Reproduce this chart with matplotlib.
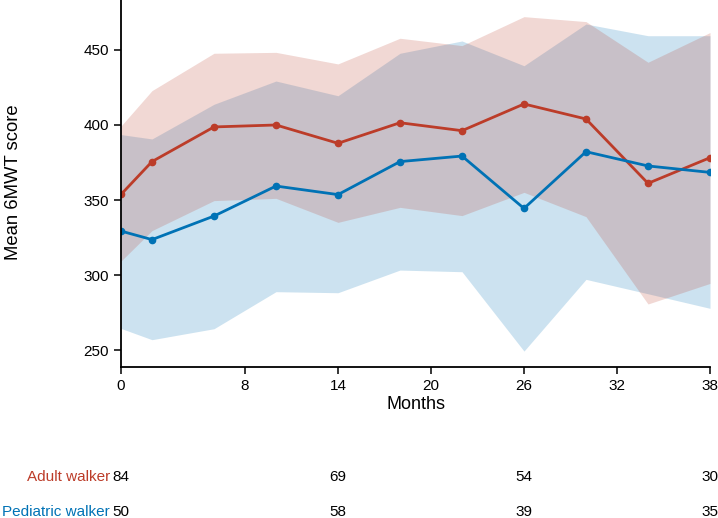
import matplotlib
matplotlib.use("Agg")
import matplotlib.pyplot as plt
import matplotlib.transforms as mtransforms

plt.rcParams["font.family"] = ["Liberation Sans", "DejaVu Sans"]

RED = "#BC3C29"
BLUE = "#0072B5"

months = [0, 2, 6, 10, 14, 18, 22, 26, 30, 34, 38]

adult_mean = [353.7, 375.6, 398.7, 400.0, 387.8, 401.5, 396.2, 414.0, 404.0, 361.1, 378.2]
adult_hi = [399.3, 422.9, 447.8, 448.4, 440.7, 457.8, 452.9, 472.2, 468.9, 441.8, 461.6]
adult_lo = [309.3, 329.6, 349.6, 351.1, 335.1, 345.1, 339.6, 355.1, 338.9, 280.7, 294.4]

ped_mean = [329.3, 323.6, 339.3, 359.3, 353.6, 375.6, 379.3, 344.4, 382.2, 372.7, 368.4]
ped_hi = [393.6, 390.7, 413.8, 429.3, 419.5, 447.8, 456.0, 439.5, 467.3, 459.5, 459.5]
ped_lo = [264.4, 256.9, 264.2, 288.9, 288.2, 303.3, 302.2, 249.3, 297.1, 287.5, 277.8]

xticks = [0, 8, 14, 20, 26, 32, 38]
yticks = [250, 300, 350, 400, 450]

risk_months = [0, 14, 26, 38]
adult_n = [84, 69, 54, 30]
ped_n = [50, 58, 39, 35]

fig = plt.figure(figsize=(7.18, 5.18), dpi=100)
ax = fig.add_axes([121 / 718, 1 - 367 / 518, 589 / 718, 367 / 518])

# bands: pediatric first so the overlap picks up the red tint
ax.fill_between(months, ped_lo, ped_hi, color=BLUE, alpha=0.2, linewidth=0)
ax.fill_between(months, adult_lo, adult_hi, color=RED, alpha=0.2, linewidth=0)
ax.plot(months, adult_mean, "-o", color=RED, linewidth=2.0, markersize=4.5)
ax.plot(months, ped_mean, "-o", color=BLUE, linewidth=2.0, markersize=4.5)

ax.set_xlim(0, 38)
ax.set_ylim(238.7, 483.3)
ax.set_xticks(xticks)
ax.set_yticks(yticks)
for s in ("top", "right"):
    ax.spines[s].set_visible(False)
for s in ("left", "bottom"):
    ax.spines[s].set_linewidth(1.3)
ax.tick_params(direction="out", length=5, width=1.1, labelsize=11, colors="black")
ax.set_xlabel("Months", fontsize=13, labelpad=2)
ax.set_ylabel("Mean 6MWT score", fontsize=13.3)
ax.yaxis.set_label_coords(-0.168, 0.503)

# number-at-risk table under the axis
trans = mtransforms.blended_transform_factory(ax.transData, fig.transFigure)
for label, counts, color, ypix in (("Adult walker", adult_n, RED, 477),
                                   ("Pediatric walker", ped_n, BLUE, 512)):
    yf = 1 - ypix / 518
    fig.text(110 / 718, yf, label, color=color, fontsize=11, ha="right", va="center")
    for m, n in zip(risk_months, counts):
        ax.text(m, yf, str(n), transform=trans, ha="center", va="center", fontsize=11,
                clip_on=False)

fig.savefig("out.png", dpi=100)
